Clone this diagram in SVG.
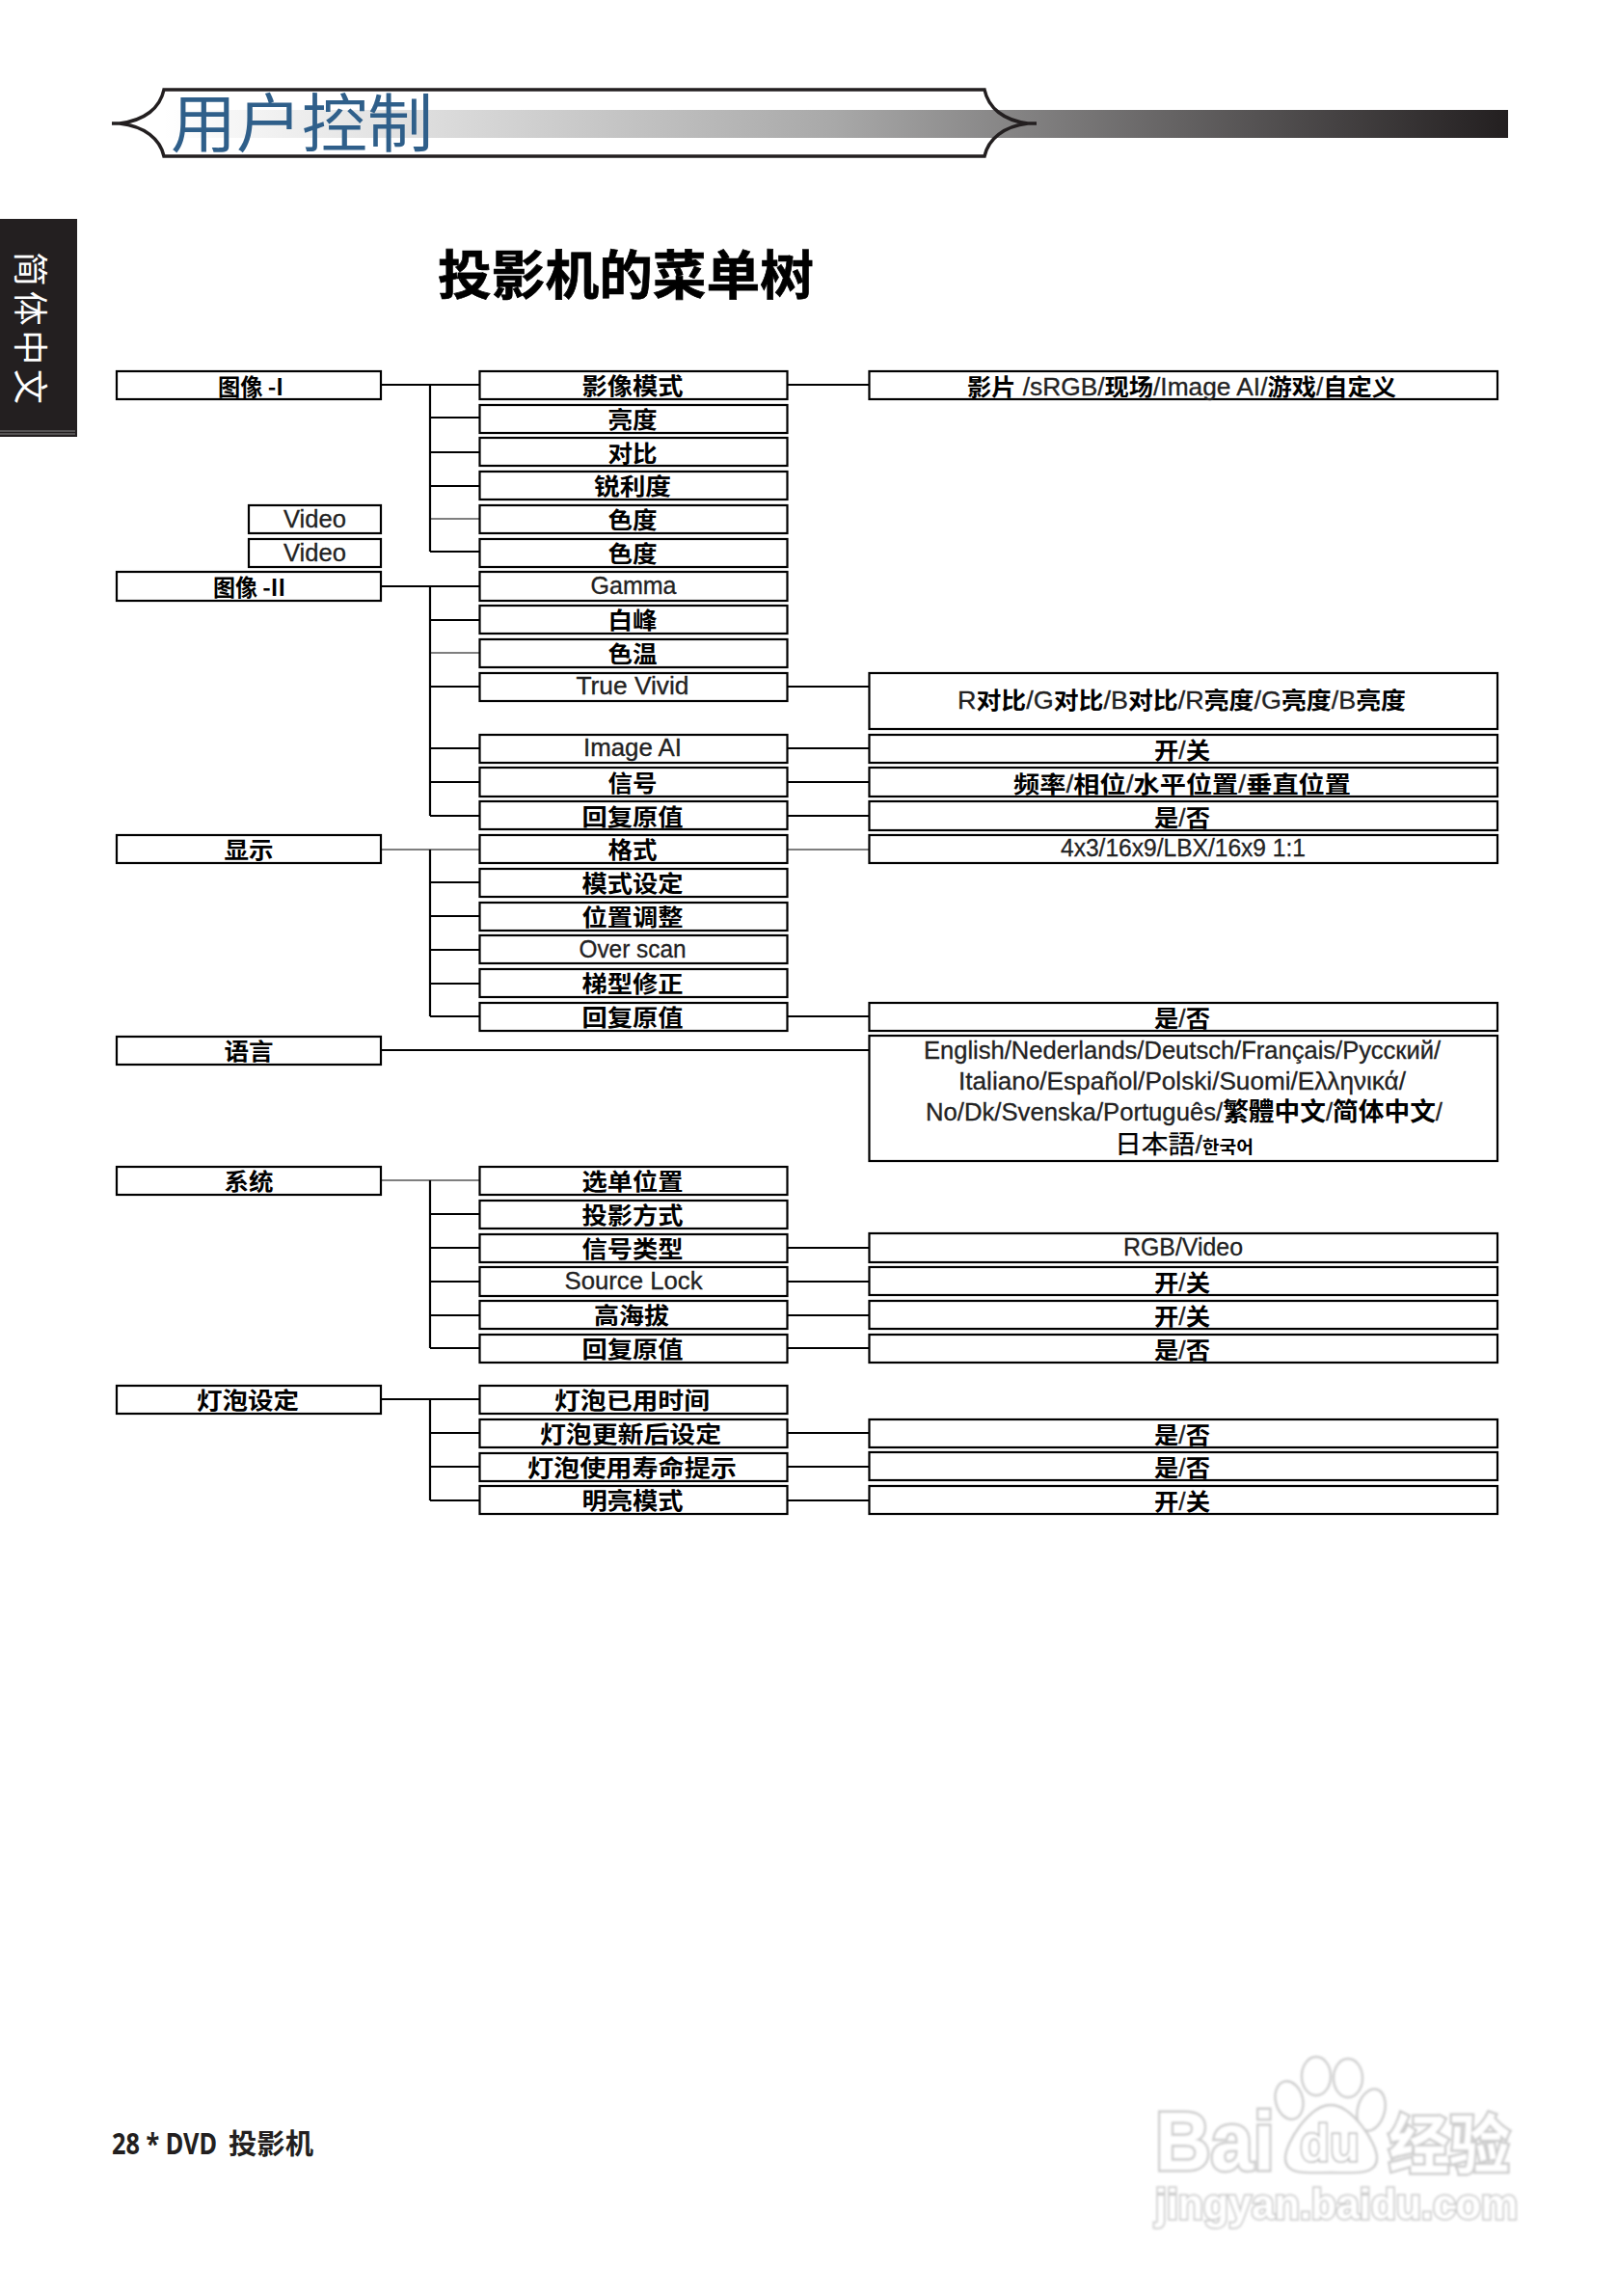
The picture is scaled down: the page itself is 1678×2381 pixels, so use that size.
<svg xmlns="http://www.w3.org/2000/svg" width="1678" height="2381" viewBox="0 0 1678 2381">
<defs>
<linearGradient id="bar" x1="170" x2="1564" y1="0" y2="0" gradientUnits="userSpaceOnUse"><stop offset="0" stop-color="#ffffff"/><stop offset="0.5" stop-color="#a8a8a8"/><stop offset="1" stop-color="#231f20"/></linearGradient>
<filter id="soft" x="-5%" y="-5%" width="110%" height="110%"><feGaussianBlur stdDeviation="0.9"/></filter>
</defs>
<style>
text{font-family:"Noto Sans CJK SC","Liberation Sans",sans-serif;fill:#000;text-anchor:middle}
.b rect{fill:#fff;stroke:#000;stroke-width:2.2}
.b text{font-size:24px;font-weight:700}
.b text.l{font-family:"Liberation Sans","Noto Sans CJK SC",sans-serif;font-size:25px;font-weight:400;fill:#222;stroke:#222;stroke-width:.3}
.b tspan.k{font-family:"Noto Sans CJK SC",sans-serif;font-size:24px;font-weight:700;fill:#000;stroke:none}
.b tspan.h{font-family:"Noto Sans CJK SC",sans-serif;font-size:26px;font-weight:700;fill:#000;stroke:none}
.b tspan.t{font-family:"Noto Sans CJK TC",sans-serif;font-size:26px;font-weight:700;fill:#000;stroke:none}
.b tspan.j{font-family:"Noto Sans CJK JP",sans-serif;font-size:26px;font-weight:400;fill:#000;stroke:#000;stroke-width:.3}
.b tspan.o{font-family:"Noto Sans CJK KR",sans-serif;font-size:18px;font-weight:700;fill:#000;stroke:none}
.c path{fill:none;stroke:#000;stroke-width:2.2}
.c path.t{stroke-width:1.2}
.w{fill:#fff;stroke:#cdcdcd;stroke-width:2.4}
.wt{font-family:"Liberation Sans",sans-serif;font-weight:700;fill:#fff;stroke:#cdcdcd;stroke-width:5;paint-order:stroke}
</style>
<rect width="1678" height="2381" fill="#fff"/>
<g id="header">
<rect x="170" y="114" width="1394" height="29" fill="url(#bar)"/>
<path d="M116 128H124C150 125 166 112 170 93H1021C1025 112 1041 125 1066 128H1075H1066C1041 131 1025 144 1021 162H170C166 144 150 131 124 128Z" fill="none" stroke="#231f20" stroke-width="3.5"/>
<text x="313" y="152" font-size="66" textLength="272" lengthAdjust="spacingAndGlyphs" style="fill:#2f5f8a">用户控制</text>
</g>
<g id="sidebar">
<rect x="0" y="227" width="80" height="226" fill="#231f20"/>
<path d="M0 447H78M0 450H78" stroke="#888" stroke-width="1"/>
<text transform="translate(18 340) rotate(90)" font-size="36" textLength="158" style="fill:#fff;font-weight:400">简体中文</text>
</g>
<text id="title" x="649" y="305" font-size="55" font-weight="700" textLength="390" lengthAdjust="spacingAndGlyphs" stroke="#000" stroke-width="0.7">投影机的菜单树</text>
<g id="connectors" class="c">
<path d="M395 399H497M446 399V572M446 433H497M446 469H497M446 504H497M446 572H497M816 399H901"/>
<path class="t" d="M446 538H497M446 677H497M395 881H497M816 881H901M395 1224H497"/>
<path d="M395 608H497M446 608V846M446 643H497M446 712H497M446 776H497M446 811H497M446 846H497M816 712H901M816 776H901M816 811H901M816 846H901"/>
<path d="M446 881V1054M446 915H497M446 950H497M446 985H497M446 1020H497M446 1054H497M816 1054H901"/>
<path d="M395 1089H901"/>
<path d="M446 1224V1398M446 1259H497M446 1294H497M446 1329H497M446 1364H497M446 1398H497M816 1294H901M816 1329H901M816 1364H901M816 1398H901"/>
<path d="M395 1451H497M446 1451V1556M446 1486H497M446 1521H497M446 1556H497M816 1486H901M816 1521H901M816 1556H901"/>
</g>
<g id="n1" class="b"><rect x="121" y="385" width="274" height="29"/><text x="260" y="409.500" textLength="68" lengthAdjust="spacingAndGlyphs">图像 -I</text></g>
<g id="n2" class="b"><rect x="258" y="524" width="137" height="29"/><text class="l" x="326.500" y="547" textLength="65" lengthAdjust="spacingAndGlyphs">Video</text></g>
<g id="n3" class="b"><rect x="258" y="559" width="137" height="29"/><text class="l" x="326.500" y="582" textLength="65" lengthAdjust="spacingAndGlyphs">Video</text></g>
<g id="n4" class="b"><rect x="121" y="593" width="274" height="30"/><text x="258.500" y="617.500" textLength="75" lengthAdjust="spacingAndGlyphs">图像 -II</text></g>
<g id="n5" class="b"><rect x="121" y="866" width="274" height="29"/><text x="258" y="889.500" textLength="51" lengthAdjust="spacingAndGlyphs">显示</text></g>
<g id="n6" class="b"><rect x="121" y="1075" width="274" height="29"/><text x="258" y="1098.500" textLength="51" lengthAdjust="spacingAndGlyphs">语言</text></g>
<g id="n7" class="b"><rect x="121" y="1210" width="274" height="29"/><text x="258" y="1233.500" textLength="51" lengthAdjust="spacingAndGlyphs">系统</text></g>
<g id="n8" class="b"><rect x="121" y="1437" width="274" height="29"/><text x="257" y="1460.500" textLength="106" lengthAdjust="spacingAndGlyphs">灯泡设定</text></g>
<g id="m1" class="b"><rect x="497.500" y="385" width="319" height="29"/><text x="656" y="408.500" textLength="105" lengthAdjust="spacingAndGlyphs">影像模式</text></g>
<g id="m2" class="b"><rect x="497.500" y="420" width="319" height="29"/><text x="656" y="443.500" textLength="51" lengthAdjust="spacingAndGlyphs">亮度</text></g>
<g id="m3" class="b"><rect x="497.500" y="454" width="319" height="29"/><text x="656" y="478.500" textLength="51" lengthAdjust="spacingAndGlyphs">对比</text></g>
<g id="m4" class="b"><rect x="497.500" y="489" width="319" height="29"/><text x="656" y="512.500" textLength="80" lengthAdjust="spacingAndGlyphs">锐利度</text></g>
<g id="m5" class="b"><rect x="497.500" y="524" width="319" height="29"/><text x="656" y="547.500" textLength="51" lengthAdjust="spacingAndGlyphs">色度</text></g>
<g id="m6" class="b"><rect x="497.500" y="559" width="319" height="29"/><text x="656" y="582.500" textLength="51" lengthAdjust="spacingAndGlyphs">色度</text></g>
<g id="m7" class="b"><rect x="497.500" y="593" width="319" height="30"/><text class="l" x="657" y="616" textLength="89" lengthAdjust="spacingAndGlyphs">Gamma</text></g>
<g id="m8" class="b"><rect x="497.500" y="628" width="319" height="29"/><text x="656" y="651.500" textLength="51" lengthAdjust="spacingAndGlyphs">白峰</text></g>
<g id="m9" class="b"><rect x="497.500" y="663" width="319" height="29"/><text x="656" y="686.500" textLength="51" lengthAdjust="spacingAndGlyphs">色温</text></g>
<g id="m10" class="b"><rect x="497.500" y="698" width="319" height="29"/><text class="l" x="656" y="720" textLength="117" lengthAdjust="spacingAndGlyphs">True Vivid</text></g>
<g id="m11" class="b"><rect x="497.500" y="762" width="319" height="29"/><text class="l" x="656" y="784" textLength="102" lengthAdjust="spacingAndGlyphs">Image AI</text></g>
<g id="m12" class="b"><rect x="497.500" y="796" width="319" height="30"/><text x="656" y="820.500" textLength="51" lengthAdjust="spacingAndGlyphs">信号</text></g>
<g id="m13" class="b"><rect x="497.500" y="831" width="319" height="29"/><text x="656" y="855.500" textLength="105" lengthAdjust="spacingAndGlyphs">回复原值</text></g>
<g id="m14" class="b"><rect x="497.500" y="866" width="319" height="29"/><text x="656" y="889.500" textLength="51" lengthAdjust="spacingAndGlyphs">格式</text></g>
<g id="m15" class="b"><rect x="497.500" y="901" width="319" height="29"/><text x="656" y="924.500" textLength="105" lengthAdjust="spacingAndGlyphs">模式设定</text></g>
<g id="m16" class="b"><rect x="497.500" y="936" width="319" height="29"/><text x="656" y="959.500" textLength="105" lengthAdjust="spacingAndGlyphs">位置调整</text></g>
<g id="m17" class="b"><rect x="497.500" y="970" width="319" height="29"/><text class="l" x="656" y="993" textLength="111" lengthAdjust="spacingAndGlyphs">Over scan</text></g>
<g id="m18" class="b"><rect x="497.500" y="1005" width="319" height="29"/><text x="656" y="1028.500" textLength="105" lengthAdjust="spacingAndGlyphs">梯型修正</text></g>
<g id="m19" class="b"><rect x="497.500" y="1040" width="319" height="29"/><text x="656" y="1063.500" textLength="105" lengthAdjust="spacingAndGlyphs">回复原值</text></g>
<g id="m20" class="b"><rect x="497.500" y="1210" width="319" height="29"/><text x="656" y="1233.500" textLength="105" lengthAdjust="spacingAndGlyphs">选单位置</text></g>
<g id="m21" class="b"><rect x="497.500" y="1245" width="319" height="29"/><text x="656" y="1268.500" textLength="105" lengthAdjust="spacingAndGlyphs">投影方式</text></g>
<g id="m22" class="b"><rect x="497.500" y="1280" width="319" height="29"/><text x="656" y="1303.500" textLength="105" lengthAdjust="spacingAndGlyphs">信号类型</text></g>
<g id="m23" class="b"><rect x="497.500" y="1314" width="319" height="30"/><text class="l" x="657" y="1337" textLength="143" lengthAdjust="spacingAndGlyphs">Source Lock</text></g>
<g id="m24" class="b"><rect x="497.500" y="1349" width="319" height="29"/><text x="655" y="1372.500" textLength="78" lengthAdjust="spacingAndGlyphs">高海拔</text></g>
<g id="m25" class="b"><rect x="497.500" y="1384" width="319" height="29"/><text x="656" y="1407.500" textLength="105" lengthAdjust="spacingAndGlyphs">回复原值</text></g>
<g id="m26" class="b"><rect x="497.500" y="1437" width="319" height="29"/><text x="655.500" y="1460.500" textLength="161" lengthAdjust="spacingAndGlyphs">灯泡已用时间</text></g>
<g id="m27" class="b"><rect x="497.500" y="1472" width="319" height="29"/><text x="654" y="1495.500" textLength="188" lengthAdjust="spacingAndGlyphs">灯泡更新后设定</text></g>
<g id="m28" class="b"><rect x="497.500" y="1507" width="319" height="29"/><text x="655.500" y="1530.500" textLength="217" lengthAdjust="spacingAndGlyphs">灯泡使用寿命提示</text></g>
<g id="m29" class="b"><rect x="497.500" y="1541" width="319" height="29"/><text x="656" y="1564.500" textLength="105" lengthAdjust="spacingAndGlyphs">明亮模式</text></g>
<g id="r1" class="b"><rect x="901.500" y="385" width="651.500" height="29"/><text class="l" x="1225.500" y="409.500" textLength="445" lengthAdjust="spacingAndGlyphs"><tspan class="k">影片</tspan> /sRGB/<tspan class="k">现场</tspan>/Image AI/<tspan class="k">游戏</tspan>/<tspan class="k">自定义</tspan></text></g>
<g id="r2" class="b"><rect x="901.500" y="698" width="651.500" height="58"/><text class="l" x="1225.500" y="735" textLength="465" lengthAdjust="spacingAndGlyphs">R<tspan class="k">对比</tspan>/G<tspan class="k">对比</tspan>/B<tspan class="k">对比</tspan>/R<tspan class="k">亮度</tspan>/G<tspan class="k">亮度</tspan>/B<tspan class="k">亮度</tspan></text></g>
<g id="r3" class="b"><rect x="901.500" y="762" width="651.500" height="29"/><text class="l" x="1226" y="786.500" textLength="58" lengthAdjust="spacingAndGlyphs"><tspan class="k">开</tspan>/<tspan class="k">关</tspan></text></g>
<g id="r4" class="b"><rect x="901.500" y="796" width="651.500" height="30"/><text class="l" x="1226" y="821.500" textLength="350" lengthAdjust="spacingAndGlyphs"><tspan class="k">频率</tspan>/<tspan class="k">相位</tspan>/<tspan class="k">水平位置</tspan>/<tspan class="k">垂直位置</tspan></text></g>
<g id="r5" class="b"><rect x="901.500" y="831" width="651.500" height="30"/><text class="l" x="1226" y="856.500" textLength="58" lengthAdjust="spacingAndGlyphs"><tspan class="k">是</tspan>/<tspan class="k">否</tspan></text></g>
<g id="r6" class="b"><rect x="901.500" y="866" width="651.500" height="29"/><text class="l" x="1227" y="888" textLength="254" lengthAdjust="spacingAndGlyphs">4x3/16x9/LBX/16x9 1:1</text></g>
<g id="r7" class="b"><rect x="901.500" y="1040" width="651.500" height="29"/><text class="l" x="1226" y="1064.500" textLength="58" lengthAdjust="spacingAndGlyphs"><tspan class="k">是</tspan>/<tspan class="k">否</tspan></text></g>
<g id="r8" class="b"><rect x="901.500" y="1074" width="651.500" height="130"/><text class="l" x="1226" y="1098" textLength="536" lengthAdjust="spacingAndGlyphs">English/Nederlands/Deutsch/Français/Русский/</text><text class="l" x="1226" y="1130" textLength="464" lengthAdjust="spacingAndGlyphs">Italiano/Español/Polski/Suomi/Ελληνικά/</text><text class="l" x="1228" y="1162" textLength="536" lengthAdjust="spacingAndGlyphs">No/Dk/Svenska/Português/<tspan class="t">繁體中文</tspan>/<tspan class="h">简体中文</tspan>/</text><text class="l" x="1228" y="1196" textLength="144" lengthAdjust="spacingAndGlyphs"><tspan class="j">日本語</tspan>/<tspan class="o">한국어</tspan></text></g>
<g id="r9" class="b"><rect x="901.500" y="1279" width="651.500" height="30"/><text class="l" x="1227" y="1302" textLength="124" lengthAdjust="spacingAndGlyphs">RGB/Video</text></g>
<g id="r10" class="b"><rect x="901.500" y="1314" width="651.500" height="29"/><text class="l" x="1226" y="1338.500" textLength="58" lengthAdjust="spacingAndGlyphs"><tspan class="k">开</tspan>/<tspan class="k">关</tspan></text></g>
<g id="r11" class="b"><rect x="901.500" y="1349" width="651.500" height="29"/><text class="l" x="1226" y="1373.500" textLength="58" lengthAdjust="spacingAndGlyphs"><tspan class="k">开</tspan>/<tspan class="k">关</tspan></text></g>
<g id="r12" class="b"><rect x="901.500" y="1384" width="651.500" height="29"/><text class="l" x="1226" y="1408.500" textLength="58" lengthAdjust="spacingAndGlyphs"><tspan class="k">是</tspan>/<tspan class="k">否</tspan></text></g>
<g id="r13" class="b"><rect x="901.500" y="1472" width="651.500" height="29"/><text class="l" x="1226" y="1496.500" textLength="58" lengthAdjust="spacingAndGlyphs"><tspan class="k">是</tspan>/<tspan class="k">否</tspan></text></g>
<g id="r14" class="b"><rect x="901.500" y="1506" width="651.500" height="29"/><text class="l" x="1226" y="1530.500" textLength="58" lengthAdjust="spacingAndGlyphs"><tspan class="k">是</tspan>/<tspan class="k">否</tspan></text></g>
<g id="r15" class="b"><rect x="901.500" y="1541" width="651.500" height="29"/><text class="l" x="1226" y="1565.500" textLength="58" lengthAdjust="spacingAndGlyphs"><tspan class="k">开</tspan>/<tspan class="k">关</tspan></text></g>
<g id="footer" style="fill:#231f20"><text x="170.500" y="2234" font-size="30" font-weight="700" textLength="109" lengthAdjust="spacingAndGlyphs" style="font-family:'Noto Sans',sans-serif;fill:#231f20">28 * DVD</text><text x="281" y="2234" font-size="29" font-weight="700" textLength="88" lengthAdjust="spacingAndGlyphs" style="fill:#231f20">投影机</text></g>
<g id="watermark" filter="url(#soft)">
<ellipse class="w" cx="1337" cy="2178" rx="14" ry="20" transform="rotate(-15 1337 2178)"/><ellipse class="w" cx="1365" cy="2153" rx="15" ry="20"/><ellipse class="w" cx="1398" cy="2155" rx="15" ry="20"/><ellipse class="w" cx="1422" cy="2188" rx="14" ry="22" transform="rotate(15 1422 2188)"/>
<path class="w" d="M1380 2183C1402 2183 1428 2222 1428 2238C1428 2256 1405 2253 1380 2253C1355 2253 1333 2256 1333 2238C1333 2222 1358 2183 1380 2183Z"/>
<text class="wt" x="1260" y="2250" font-size="86" textLength="124" lengthAdjust="spacingAndGlyphs">Bai</text>
<text class="wt" x="1379" y="2241" font-size="54" textLength="62" lengthAdjust="spacingAndGlyphs" style="stroke:#b8b8b8;stroke-width:3">du</text>
<text class="wt" x="1503" y="2248" font-size="66" textLength="126" lengthAdjust="spacingAndGlyphs" style="font-family:'Noto Sans CJK SC',sans-serif">经验</text>
<text class="wt" x="1386" y="2301" font-size="44" textLength="376" lengthAdjust="spacingAndGlyphs" style="stroke-width:3.5">jingyan.baidu.com</text>
</g>
</svg>
